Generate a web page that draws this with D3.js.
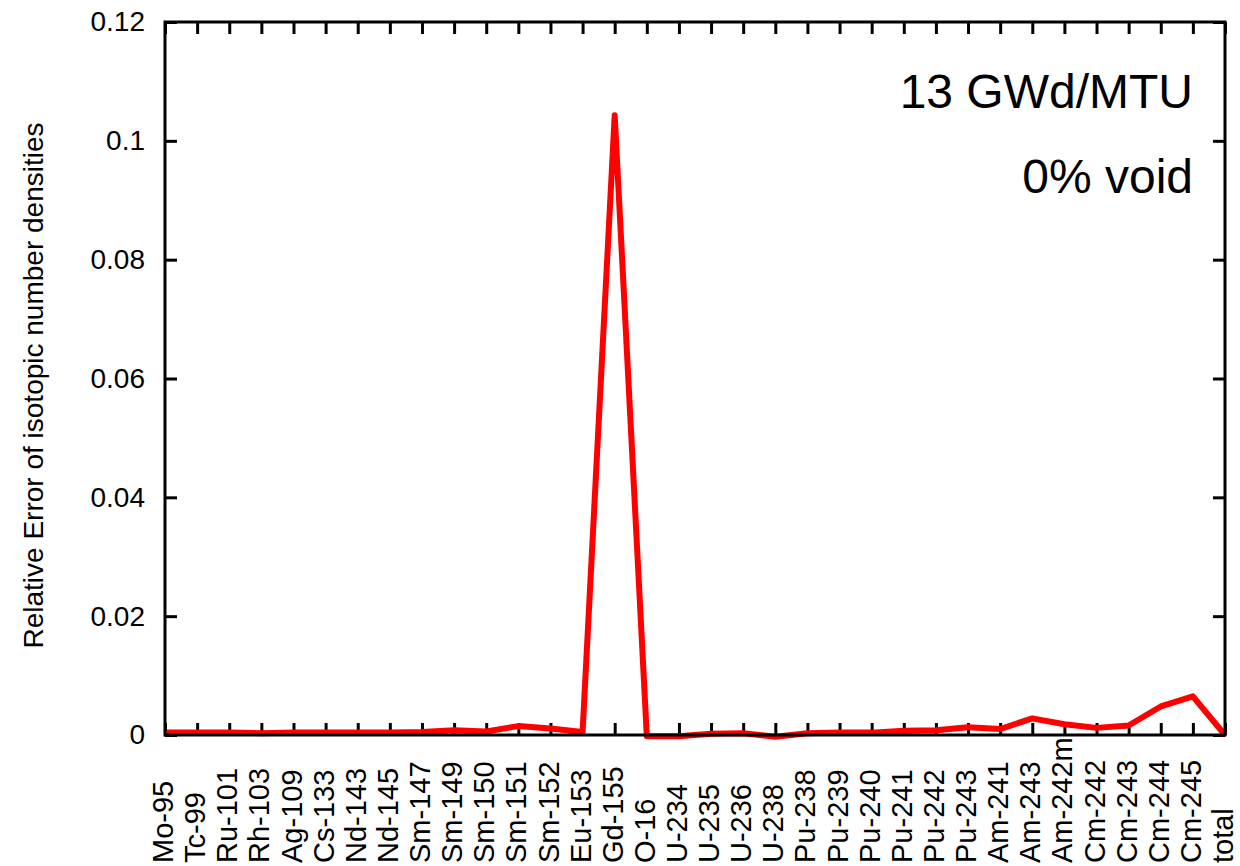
<!DOCTYPE html>
<html>
<head>
<meta charset="utf-8">
<script src="https://cdn.jsdelivr.net/npm/d3@7"></script>
<style>
  html, body { margin: 0; padding: 0; background: #fff; }
  svg { display: block; }
</style>
</head>
<body>
<div id="chart"></div>
<script>
  /* ── DATA ── */
  const ISOTOPES = [
    'Mo-95','Tc-99','Ru-101','Rh-103','Ag-109','Cs-133','Nd-143','Nd-145',
    'Sm-147','Sm-149','Sm-150','Sm-151','Sm-152','Eu-153','Gd-155','O-16',
    'U-234','U-235','U-236','U-238','Pu-238','Pu-239','Pu-240','Pu-241',
    'Pu-242','Pu-243','Am-241','Am-243','Am-242m','Cm-242','Cm-243','Cm-244',
    'Cm-245','total'
  ];
  const REL_ERROR = [
    0.0004, 0.0004, 0.0004, 0.0003, 0.0004, 0.0004, 0.0004, 0.0004,
    0.0005, 0.0008, 0.0006, 0.0015, 0.0011, 0.0005, 0.1043, -0.0002,
    -0.0002, 0.0002, 0.0003, -0.0003, 0.0003, 0.0004, 0.0004, 0.0007,
    0.0008, 0.0013, 0.0010, 0.0028, 0.0018, 0.0012, 0.0016, 0.0048,
    0.0065, 0.0000
  ];
  const Y_TICKS = [0, 0.02, 0.04, 0.06, 0.08, 0.1, 0.12];
  const NOTES = ['13 GWd/MTU', '0% void'];

  const W = 1240, H = 866;
  const M = { top: 22, right: 15, bottom: 131, left: 165 };
  const FONT = "Arial, 'Liberation Sans', sans-serif";
  const iw = W - M.left - M.right, ih = H - M.top - M.bottom;

  const svg = d3.select('#chart').append('svg').attr('width', W).attr('height', H);
  const g = svg.append('g').attr('transform', `translate(${M.left},${M.top})`);

  const x = d3.scalePoint().domain(ISOTOPES).range([0, iw]);
  const y = d3.scaleLinear().domain([0, 0.12]).range([ih, 0]);

  function styleAxis(ax) {
    ax.select('.domain').remove();
    ax.selectAll('line').attr('stroke', '#000').attr('stroke-width', 3);
  }

  /* bottom axis: inward ticks, labels read upward from the bottom edge */
  g.append('g').attr('transform', `translate(0,${ih})`)
    .call(d3.axisBottom(x).tickSizeInner(-12).tickSizeOuter(0))
    .call(styleAxis)
    .call(ax => ax.selectAll('text')
      .attr('transform', 'rotate(-90)')
      .attr('text-anchor', 'start')
      .attr('dy', '0.26em').attr('x', -(H - M.top - ih - 3)).attr('y', 0)
      .style('font-family', FONT).style('font-size', '29px').attr('fill', '#000'));

  /* top axis: inward ticks only */
  g.append('g')
    .call(d3.axisTop(x).tickSizeInner(-12).tickSizeOuter(0).tickFormat(''))
    .call(styleAxis);

  /* left axis */
  g.append('g')
    .call(d3.axisLeft(y).tickValues(Y_TICKS).tickSizeInner(-12).tickSizeOuter(0)
      .tickPadding(20).tickFormat(d => d === 0 ? '0' : String(+d.toFixed(2))))
    .call(styleAxis)
    .call(ax => ax.selectAll('text')
      .style('font-family', FONT).style('font-size', '28px').attr('fill', '#000'));

  /* right axis */
  g.append('g').attr('transform', `translate(${iw},0)`)
    .call(d3.axisRight(y).tickValues(Y_TICKS).tickSizeInner(-12).tickSizeOuter(0).tickFormat(''))
    .call(styleAxis);

  /* series */
  g.append('path').datum(REL_ERROR)
    .attr('fill', 'none').attr('stroke', '#ff0000').attr('stroke-width', 6)
    .attr('stroke-linejoin', 'round')
    .attr('d', d3.line().x((_, i) => x(ISOTOPES[i])).y(d => y(d)));

  /* frame */
  g.append('rect').attr('width', iw).attr('height', ih)
    .attr('fill', 'none').attr('stroke', '#000').attr('stroke-width', 3);

  /* y title */
  svg.append('text')
    .attr('transform', `translate(43,${M.top + ih / 2 + 7}) rotate(-90)`)
    .attr('text-anchor', 'middle')
    .style('font-family', FONT).style('font-size', '28px')
    .text('Relative Error of isotopic number densities');

  /* notes */
  NOTES.forEach((t, i) => {
    g.append('text')
      .attr('x', iw - 32).attr('y', 86 + i * 85)
      .attr('text-anchor', 'end')
      .style('font-family', FONT).style('font-size', '48px')
      .text(t);
  });
</script>
</body>
</html>
